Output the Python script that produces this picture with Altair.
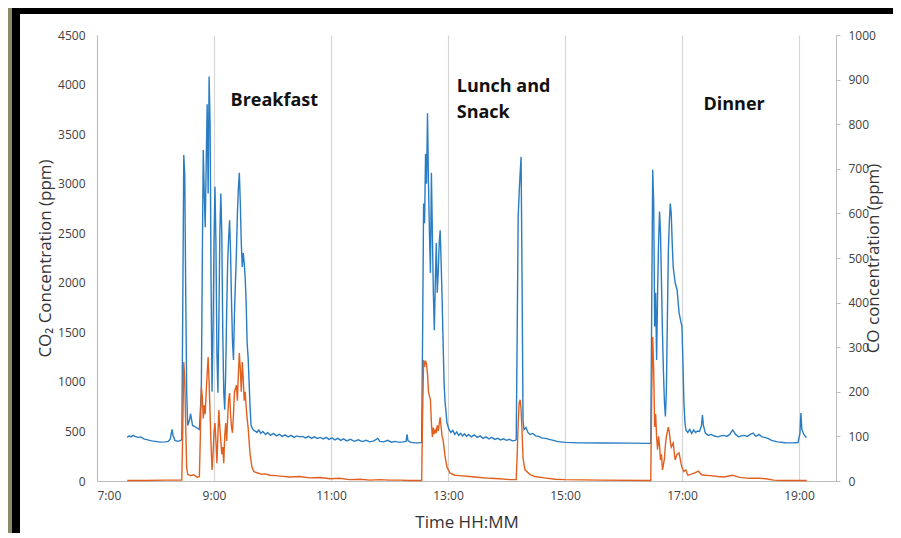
import altair as alt
import pandas as pd

# ---- CO2 concentration (ppm), left axis ----
co2_time = ["7:31","7:33","7:35","7:37","7:39","7:42","7:45","7:48","7:52","7:56","8:00","8:05","8:10","8:13","8:15","8:17","8:18","8:20","8:23","8:26","8:27",
"8:28","8:29","8:30","8:31","8:32","8:33","8:35","8:36","8:38","8:42","8:45","8:47","8:48","8:49","8:50","8:51","8:52","8:53","8:54","8:55","8:56","8:57","8:58","8:59",
"9:00","9:01","9:02","9:03","9:04","9:05","9:06","9:07","9:08","9:09","9:10","9:11","9:12","9:13","9:14","9:15","9:16","9:17","9:18","9:19","9:20","9:21","9:23","9:24","9:25","9:26","9:27","9:28","9:29","9:30","9:31","9:32","9:33","9:34","9:35","9:36","9:37","9:38","9:40",
"9:44","9:46","9:48","9:50","9:53","9:55","9:58","10:01","10:04","10:07","10:10","10:13","10:16","10:19","10:22","10:25","10:28","10:31","10:34","10:37","10:40","10:43","10:46","10:49","10:52","10:55","10:58","11:01","11:04","11:07","11:10","11:13","11:16","11:20","11:24","11:28","11:32","11:36","11:40","11:44","11:48","11:50","11:54","11:58","12:02","12:06","12:10","12:14","12:17","12:18","12:19","12:22","12:26","12:30","12:33",
"12:34","12:35","12:36","12:37","12:38","12:39","12:40","12:41","12:42","12:43","12:44","12:45","12:46","12:47","12:48","12:49","12:50","12:51","12:52","12:53","12:54","12:55","12:56","12:57","12:59","13:01","13:03","13:05","13:07","13:09","13:11","13:13","13:15","13:17","13:19","13:21","13:24","13:27","13:30","13:33","13:36","13:39","13:42","13:45","13:48","13:51","13:54","13:57","14:00","14:03","14:06","14:09","14:10",
"14:11","14:12","14:13","14:14","14:15","14:16","14:17","14:18","14:20","14:22","14:24","14:27","14:30","14:33","14:36","14:40","14:44","14:48","14:52","14:56","15:00","15:15","15:40","16:05","16:27",
"16:28","16:29","16:30","16:31","16:32","16:33","16:34","16:35","16:36","16:37","16:38","16:39","16:40","16:41","16:42","16:43","16:44","16:45","16:46","16:47","16:48","16:49","16:50","16:51","16:53","16:55","16:57","16:59","17:00","17:01","17:02","17:03","17:04",
"17:06","17:08","17:10","17:12","17:14","17:16","17:18","17:20","17:21","17:22","17:24","17:27","17:30","17:33","17:37","17:40","17:43","17:46","17:49","17:52","17:55","17:58","18:01","18:04","18:07","18:10","18:13","18:16","18:19","18:22","18:25","18:28","18:32","18:38","18:46","18:53","18:59","19:01","19:02","19:03","19:05","19:07","19:08"]
co2_ppm = [440,455,445,460,450,440,445,425,415,405,400,392,395,400,420,520,455,410,400,410,420,
1800,3290,3100,1900,900,560,620,680,560,540,520,900,2200,3340,2900,2560,3200,3800,2900,4080,3600,2000,900,1500,
2400,2970,2400,1300,890,1600,2500,2900,2500,1500,900,720,1100,1700,2200,2450,2630,2300,1800,1400,1220,1700,2300,2700,2950,3110,2800,2400,2160,2300,2200,2050,1800,1390,1250,1000,750,560,520,
490,515,480,500,470,490,460,480,455,470,450,465,445,460,440,455,445,450,435,450,430,445,430,440,425,440,420,435,415,430,410,425,405,420,400,415,398,410,395,405,430,400,395,410,392,400,390,395,400,470,405,390,385,385,390,
1500,2800,2600,3300,3000,3710,3000,2500,2100,3110,2500,1900,1520,2000,2400,1900,2100,2400,2530,2200,1830,1400,990,800,585,520,490,510,470,495,460,480,455,475,450,470,445,465,440,455,430,445,425,440,420,430,415,425,410,420,405,410,420,
1500,2660,2900,3100,3270,2000,600,520,540,490,470,480,455,450,435,430,420,410,400,395,390,385,383,382,380,
380,1800,3140,2800,1560,1900,1220,1900,2400,2720,2500,2000,1500,1100,800,650,900,1600,2300,2600,2800,2700,2400,2160,2000,1930,1700,1600,1560,1200,790,600,515,
490,520,480,515,490,505,500,560,666,560,483,460,470,454,445,455,460,450,470,515,470,447,455,460,450,470,484,450,470,445,440,430,410,395,386,385,388,480,686,520,470,444,445]

# ---- CO concentration (ppm), right axis ----
co_time = ["7:31","7:50","8:10","8:27",
"8:28","8:29","8:30","8:31","8:32","8:33","8:36","8:39","8:43","8:45","8:46","8:47","8:48","8:49","8:50","8:51","8:52","8:53","8:54","8:55","8:56","8:57","8:58","8:59",
"9:00","9:01","9:02","9:03","9:04","9:05","9:06","9:07","9:08","9:09","9:10","9:11","9:12","9:13","9:14","9:15","9:16","9:17","9:18","9:19","9:20","9:21","9:23","9:24","9:25","9:26","9:27","9:28","9:29","9:30","9:31","9:32","9:33","9:34","9:35","9:36","9:37","9:39","9:41",
"9:45","9:49","9:53","9:57","10:03","10:08","10:18","10:28","10:38","10:49","10:59","11:09","11:19","11:30","11:40","11:50","12:00","12:11","12:21","12:33",
"12:34","12:35","12:36","12:37","12:38","12:39","12:40","12:42","12:43","12:44","12:45","12:46","12:47","12:48","12:49","12:50","12:52","12:53","12:54","12:55","12:57","12:59","13:02","13:07","13:12","13:22","13:33","13:43","13:53","14:04","14:10",
"14:11","14:12","14:13","14:14","14:15","14:16","14:17","14:19","14:24","14:29","14:39","14:50","15:00","15:36","16:27",
"16:28","16:29","16:30","16:31","16:32","16:33","16:34","16:35","16:36","16:37","16:38","16:39","16:40","16:41","16:42","16:43","16:44","16:45","16:46","16:47","16:48","16:49","16:51","16:53","16:55","16:57","16:59","17:00","17:02","17:04",
"17:06","17:09","17:13","17:17","17:20","17:24","17:29","17:37","17:43","17:52","17:59","18:09","18:19","18:26","18:34","18:44","19:00","19:08"]
co_ppm = [1,1,2,2,
120,267,230,120,30,15,12,14,8,10,100,210,190,140,170,150,200,240,278,220,150,80,25,60,
110,130,90,40,100,159,120,90,60,76,40,100,130,90,140,182,197,150,120,108,150,200,215,180,240,287,250,200,267,230,180,200,166,140,120,90,60,30,21,
18,15,16,13,12,11,9,10,7,8,5,6,3,4,2,3,2,2,1,1,
150,271,256,270,262,240,200,182,130,99,120,105,114,110,125,112,143,120,100,92,55,31,18,13,12,10,8,6,5,3,3,
60,130,175,182,160,110,50,25,15,10,7,4,3,2,1,
1,200,323,250,121,150,99,70,100,80,47,60,25,36,50,80,100,110,121,110,90,76,85,47,60,63,40,30,21,25,
13,15,18,22,14,13,12,10,9,13,8,6,6,5,2,1,1,1]

# ---- meal annotations ----
note_text = ["Breakfast", "Lunch and", "Snack", "Dinner"]
note_time = ["9:17", "13:09", "13:09", "17:22"]
note_ppm = [3834, 3975, 3713, 3794]

hour_ticks = [7, 9, 11, 13, 15, 17, 19]
co2_ticks = list(range(0, 4501, 500))
co_ticks = list(range(0, 1001, 100))


def iso(t):
    h, m = t.split(":")
    return f"2020-01-01T{int(h):02d}:{int(m):02d}:00"


co2_df = pd.DataFrame({"time": [iso(t) for t in co2_time], "ppm": co2_ppm})
co_df = pd.DataFrame({"time": [iso(t) for t in co_time], "ppm": co_ppm})
note_df = pd.DataFrame({"time": [iso(t) for t in note_time], "ppm": note_ppm, "label": note_text})

FONT = "Open Sans"
AXC = "#bdbdbd"

x_enc = alt.X(
    "time:T",
    scale=alt.Scale(domain=[alt.DateTime(year=2020, month=1, date=1, hours=7),
                            alt.DateTime(year=2020, month=1, date=1, hours=19, minutes=38)]),
    axis=alt.Axis(
        values=[alt.DateTime(year=2020, month=1, date=1, hours=h) for h in hour_ticks],
        format="%-H:%M", grid=True, gridColor="#d6d6d6", gridWidth=1.2,
        domainColor=AXC, ticks=False, labelPadding=9, labelFontSize=12,
        labelFont=FONT, labelColor="#404040",
        title="Time HH:MM", titleFont=FONT, titleFontSize=17, titleFontWeight="normal",
        titleColor="#333333", titleY=46, titleBaseline="alphabetic",
    ),
)

frame_df = pd.DataFrame({"a": [0]})
tex = alt.Chart(frame_df).mark_rect(color="#8b8a6b").encode(
    x=alt.value(-89), x2=alt.value(-85), y=alt.value(-27), y2=alt.value(498))
left_black = alt.Chart(frame_df).mark_rect(color="#000000").encode(
    x=alt.value(-85), x2=alt.value(-77), y=alt.value(-27), y2=alt.value(498))
top_black = alt.Chart(frame_df).mark_rect(color="#000000").encode(
    x=alt.value(-85), x2=alt.value(796), y=alt.value(-27), y2=alt.value(-21))

co2_line = alt.Chart(co2_df).mark_line(color="#2a7dc2", strokeWidth=1.4).encode(
    x=x_enc,
    y=alt.Y("ppm:Q", scale=alt.Scale(domain=[0, 4500], nice=False),
            axis=alt.Axis(values=co2_ticks, format="d", grid=False, ticks=False, domainColor=AXC,
                          labelPadding=12, labelFontSize=12, labelFont=FONT, labelColor="#404040",
                          title="CO₂ Concentration (ppm)", titleFont=FONT, titleFontSize=17,
                          titleFontWeight="normal", titleColor="#333333",
                          titleAngle=270, titleX=-52, titleY=223,
                          titleAlign="center", titleBaseline="middle")),
)

co_line = alt.Chart(co_df).mark_line(color="#e2601f", strokeWidth=1.4).encode(
    x=x_enc,
    y=alt.Y("ppm:Q", scale=alt.Scale(domain=[0, 1000], nice=False),
            axis=alt.Axis(orient="right", values=co_ticks, format="d", grid=False, ticks=True,
                          tickSize=4, tickColor=AXC, domainColor=AXC,
                          labelPadding=8, labelFontSize=12, labelFont=FONT, labelColor="#404040",
                          title="CO concentration (ppm)", titleFont=FONT, titleFontSize=17,
                          titleFontWeight="normal", titleColor="#333333",
                          titleAngle=270, titleX=37, titleY=223,
                          titleAlign="center", titleBaseline="middle")),
)

notes = alt.Chart(note_df).mark_text(align="left", baseline="middle", fontSize=18,
                                     fontWeight="bold", font=FONT, color="#111111").encode(
    x=x_enc,
    y=alt.Y("ppm:Q", scale=alt.Scale(domain=[0, 4500], nice=False), axis=None),
    text="label:N",
)

chart = alt.layer(tex, left_black, top_black, co2_line, co_line, notes).resolve_scale(
    y="independent"
).properties(
    width=739, height=446,
    padding={"left": 89, "top": 27, "right": 57, "bottom": 52},
    autosize=alt.AutoSizeParams(type="none"),
    background="#ffffff",
).configure_view(stroke=None)

chart.save("out.html", embed_options={"renderer": "svg", "actions": False})
